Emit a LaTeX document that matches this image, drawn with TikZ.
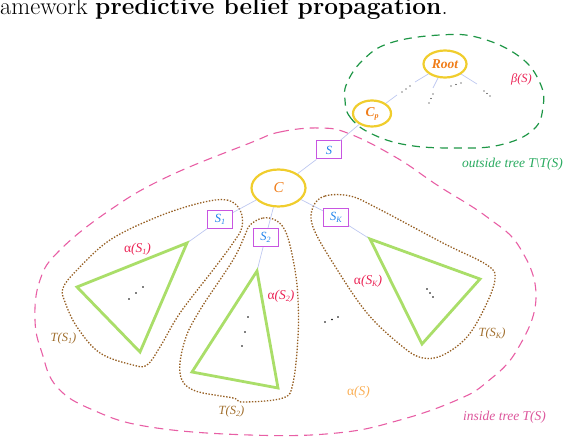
\documentclass[tikz,border=0pt]{standalone}
\usepackage{fontspec}
\newfontfamily\lab{Liberation Serif}
\usetikzlibrary{shapes.geometric}
\definecolor{pinkd}{RGB}{232,95,165}
\definecolor{greend}{RGB}{30,150,70}
\definecolor{brownd}{RGB}{150,95,35}
\definecolor{alphared}{RGB}{235,35,85}
\definecolor{outgreen}{RGB}{40,170,95}
\definecolor{inpink}{RGB}{220,85,155}
\definecolor{alorange}{RGB}{250,175,85}
\definecolor{tbrown}{RGB}{160,110,45}
\definecolor{nodeorange}{RGB}{240,125,25}
\definecolor{gold}{RGB}{240,205,45}
\definecolor{boxpurple}{RGB}{200,85,225}
\definecolor{boxblue}{RGB}{30,130,235}
\definecolor{linkblue}{RGB}{190,200,240}
\definecolor{trigreen}{RGB}{170,222,105}
\newcommand\lsub[1]{\raisebox{-0.35ex}{\fontsize{8}{8}\selectfont #1}}
\begin{document}
\begin{tikzpicture}[x=1pt,y=-1pt,
  cluster/.style={ellipse, draw=gold, line width=2.2pt, inner sep=0pt, font=\lab\itshape\fontsize{15}{17}\selectfont, text=nodeorange},
  sepbox/.style={rectangle, draw=boxpurple, line width=1pt, minimum width=25pt, minimum height=18pt, inner sep=0pt, font=\lab\itshape\fontsize{12.5}{14}\selectfont, text=boxblue},
  link/.style={draw=linkblue, line width=0.7pt},
  tri/.style={draw=trigreen, line width=2.8pt, line join=miter},
  pinkline/.style={draw=pinkd, line width=1.1pt, dash pattern=on 9pt off 6pt},
  greenline/.style={draw=greend, line width=1.2pt, dash pattern=on 8pt off 6pt},
  brownline/.style={draw=brownd, line width=1.3pt, dash pattern=on 1.4pt off 1.6pt},
  lbl/.style={inner sep=0pt, font=\lab\itshape\fontsize{13.5}{15}\selectfont},
  dot/.style={fill=black, circle, inner sep=0pt, minimum size=1.6pt}
]
\useasboundingbox (0,0) rectangle (572,438);

% caption fragment
\node[anchor=base west, inner sep=0pt] (cap) at (0,15) {\fontsize{24.5}{28}\selectfont amework \textbf{predictive belief propagation}.};

% outlines
\draw[pinkline] plot[smooth cycle, tension=0.7] coordinates {(250,143) (280,132) (320,128) (350,134) (397,158) (437,185) (487,217) (520,248) (536,298) (517,350) (487,382) (457,400) (400,420) (337,433) (250,435) (150,427) (93,410) (57,387) (42,353) (35,320) (40,280) (60,250) (110,210) (167,177)};
\draw[greenline] plot[smooth cycle, tension=0.7] coordinates {(345,100) (350,117) (370,133) (407,145) (457,148) (500,145) (533,130) (543,107) (540,83) (520,57) (480,38) (440,35) (390,43) (363,60) (347,83)};
\draw[brownline] plot[smooth cycle, tension=0.6] coordinates {(200,203) (227,200) (240,210) (242,227) (233,243) (213,270) (180,313) (160,347) (147,365) (133,365) (100,353) (77,327) (65,302) (63,288) (77,270) (110,240) (157,217)};
\draw[brownline] plot[smooth cycle, tension=0.6] coordinates {(250,225) (263,218) (277,221) (287,235) (295,270) (298,300) (298,337) (293,383) (283,398) (243,402) (233,398) (193,390) (180,373) (185,340) (200,310) (233,260) (245,235)};
\draw[brownline] plot[smooth cycle, tension=0.6] coordinates {(313,207) (325,196) (350,196) (377,208) (443,243) (487,265) (495,279) (485,307) (467,337) (443,355) (423,358) (403,347) (367,313) (333,263) (313,227)};

% nodes
\node[cluster, minimum width=43pt, minimum height=27pt, font=\lab\bfseries\itshape\fontsize{13.5}{15}\selectfont] (root) at (445,64) {Root};
\node[cluster, minimum width=38pt, minimum height=26pt, font=\lab\bfseries\itshape\fontsize{13.5}{15}\selectfont] (cp) at (372,113.5) {C\lsub{p}};
\node[cluster, minimum width=54pt, minimum height=37pt] (c) at (278.5,188) {C};
\node[sepbox] (s) at (329,150) {S};
\node[sepbox] (s1) at (220,219.5) {S\lsub{1}};
\node[sepbox] (s2) at (265.5,237.5) {S\lsub{2}};
\node[sepbox] (sk) at (336,217.5) {S\lsub{K}};

% triangle corners
\coordinate (t1a) at (187,243); \coordinate (t1b) at (77,287); \coordinate (t1c) at (140,352);
\coordinate (t2a) at (257,271); \coordinate (t2b) at (192,372); \coordinate (t2c) at (278,388);
\coordinate (tka) at (370,239); \coordinate (tkb) at (480,279); \coordinate (tkc) at (422,344);

% links
\draw[link] (cp) -- (s);
\draw[link] (s) -- (c);
\draw[link] (c) -- (s1);
\draw[link] (c) -- (s2);
\draw[link] (c) -- (sk);
\draw[link] (s1) -- (t1a);
\draw[link] (s2) -- (t2a);
\draw[link] (sk) -- (tka);

% root branches
\coordinate (r1e) at (415,82); \coordinate (r1s) at (397,95);
\coordinate (r2e) at (433,88);
\coordinate (r4e) at (477,84);
\draw[link] (root) -- (r1e);
\draw[link] (r1s) -- (cp);
\draw[link] (root) -- (r2e);
\draw[link] (root) -- (r4e);
\foreach \p in {(402,92),(406,89),(410,86),(433,94),(431,98.5),(429,103),(451,86),(456,84.5),(461,83),(484,91),(487,93.5),(490,96)}
  \node[dot, minimum size=1.3pt] at \p {};

% triangles
\draw[tri] (t1a) -- (t1b) -- (t1c) -- cycle;
\draw[tri] (t2a) -- (t2b) -- (t2c) -- cycle;
\draw[tri] (tka) -- (tkb) -- (tkc) -- cycle;

% inner dots
\foreach \p in {(129,299),(136,293),(143,287),(248,317),(245,332),(242,346),(427,289),(430,293),(433,297),(325,322),(332,319.5),(338,317)}
  \node[dot] at \p {};

% labels
\node[lbl, text=alphared] (a1) at (137.5,249) {\upshape α\itshape(S\lsub{1})};
\node[lbl, text=alphared] (a2) at (281,296) {\upshape α\itshape(S\lsub{2})};
\node[lbl, text=alphared] (ak) at (368,281) {\upshape α\itshape(S\lsub{K})};
\node[lbl, text=alorange] (as) at (358.5,392) {\upshape α\itshape(S)};
\node[lbl, text=tbrown, font=\lab\itshape\fontsize{12.5}{14}\selectfont] (ts1) at (63.5,338) {T(S\lsub{1})};
\node[lbl, text=tbrown, font=\lab\itshape\fontsize{12.5}{14}\selectfont] (ts2) at (231.5,411) {T(S\lsub{2})};
\node[lbl, text=tbrown, font=\lab\itshape\fontsize{12.5}{14}\selectfont] (tsk) at (492,333) {T(S\lsub{K})};
\node[lbl, text=alphared, font=\lab\itshape\fontsize{12.5}{14}\selectfont] (beta) at (521.5,79) {β(S)};
\node[lbl, text=outgreen] (out) at (512.5,164) {outside tree T\textbackslash T(S)};
\node[lbl, text=inpink] (in) at (504.5,417) {inside tree T(S)};
\end{tikzpicture}
\end{document}
